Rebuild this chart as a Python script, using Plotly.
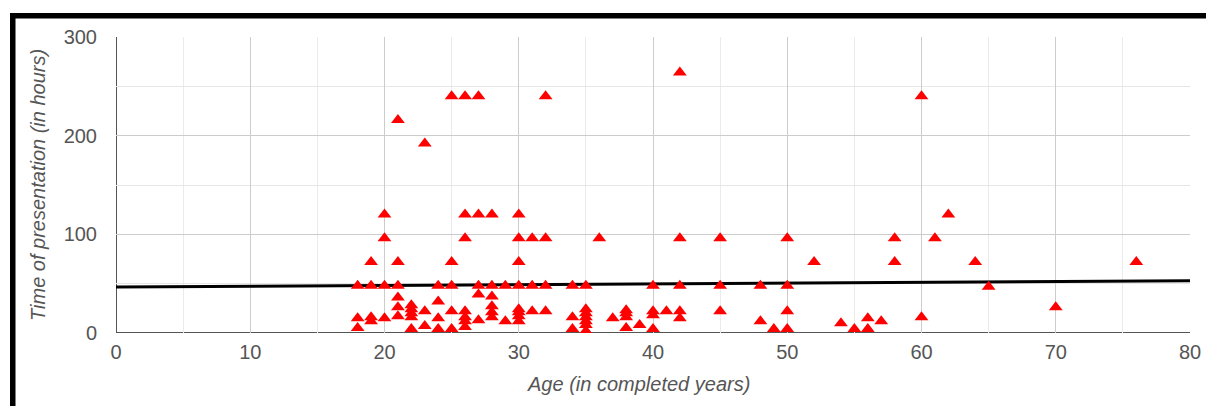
import plotly.graph_objects as go

# Data: (age, hours) pairs grouped by age
ages = [
    18, 18, 18,
    19, 19, 19, 19,
    20, 20, 20, 20,
    21, 21, 21, 21, 21, 21,
    22, 22, 22, 22, 22,
    23, 23, 23,
    24, 24, 24, 24,
    25, 25, 25, 25, 25,
    26, 26, 26, 26, 26, 26, 26,
    27, 27, 27, 27, 27,
    28, 28, 28, 28, 28, 28,
    29, 29,
    30, 30, 30, 30, 30, 30, 30, 30,
    31, 31, 31,
    32, 32, 32, 32,
    34, 34, 34,
    35, 35, 35, 35, 35, 35, 35,
    36,
    37,
    38, 38, 38, 38,
    39,
    40, 40, 40, 40,
    41,
    42, 42, 42, 42, 42,
    45, 45, 45,
    48, 48,
    49,
    50, 50, 50, 50,
    52,
    54, 55, 56, 56, 57,
    58, 58,
    60, 60,
    61, 62, 64, 65, 70, 76,
]
hours = [
    48, 15, 5,
    72, 48, 16, 12,
    120, 96, 48, 15,
    216, 72, 48, 36, 26, 17,
    28, 24, 20, 16, 4,
    192, 22, 7,
    48, 32, 15, 4,
    240, 72, 48, 22, 4,
    240, 120, 96, 22, 16, 12, 6,
    240, 120, 48, 39, 13,
    120, 48, 37, 27, 21, 16,
    48, 12,
    120, 96, 72, 48, 24, 21, 17, 12,
    96, 48, 22,
    240, 96, 48, 22,
    48, 16, 4,
    48, 24, 20, 16, 12, 8, 2,
    96,
    15,
    23, 20, 16, 5,
    8,
    48, 22, 18, 4,
    22,
    264, 96, 48, 22, 15,
    96, 48, 22,
    48, 12,
    4,
    96, 48, 22, 4,
    72,
    10, 4, 15, 4, 12,
    96, 72,
    240, 16,
    96, 120, 72, 47, 26, 72,
]

# Linear trendline as drawn in the reference (read endpoints)
trend_x = [0, 80]
trend_y = [46.5, 53]

x_ticks = [0, 10, 20, 30, 40, 50, 60, 70, 80]
y_ticks = [0, 100, 200, 300]

x_title = "Age (in completed years)"
y_title = "Time of presentation (in hours)"

fig = go.Figure()
fig.add_trace(go.Scatter(
    x=trend_x, y=trend_y, mode="lines",
    line=dict(color="black", width=3), hoverinfo="skip", showlegend=False,
))
fig.add_trace(go.Scatter(
    x=ages, y=hours, mode="markers",
    marker=dict(symbol="triangle-up", color="#ff0000", size=12, line=dict(width=0)),
    showlegend=False,
))

W, H = 1206, 406
L, R, T, B = 116, 1206 - 1190, 37, 406 - 333
pw, ph = W - L - R, H - T - B

def px(xs):
    return (xs - L) / pw

def py(ys):
    return (H - B - ys) / ph

# black frame (left and top bands) from the screenshot
fig.add_shape(type="rect", xref="paper", yref="paper",
              x0=px(10), x1=px(15.5), y0=py(410), y1=py(13),
              fillcolor="black", line=dict(width=0), layer="above")
fig.add_shape(type="rect", xref="paper", yref="paper",
              x0=px(10), x1=px(1210), y0=py(18.5), y1=py(13),
              fillcolor="black", line=dict(width=0), layer="above")

font_family = "Liberation Sans, Arial, sans-serif"
fig.update_layout(
    width=W, height=H,
    margin=dict(l=L, r=R, t=T, b=B, autoexpand=False),
    paper_bgcolor="white", plot_bgcolor="white",
    font=dict(family=font_family, color="#444444", size=20),
    xaxis=dict(
        range=[0, 80], tickvals=x_ticks, ticktext=[str(v) for v in x_ticks],
        showgrid=True, gridcolor="#cccccc", gridwidth=1,
        minor=dict(dtick=5, showgrid=True, gridcolor="#ebebeb", gridwidth=1),
        zeroline=False, showline=False,
        tickfont=dict(size=20, color="#555555"), ticks="", ticklabelstandoff=5,
        fixedrange=True,
    ),
    yaxis=dict(
        range=[0, 300], tickvals=y_ticks, ticktext=[str(v) for v in y_ticks],
        showgrid=True, gridcolor="#cccccc", gridwidth=1,
        minor=dict(dtick=50, showgrid=True, gridcolor="#e6e6e6", gridwidth=1),
        zeroline=False, showline=False,
        tickfont=dict(size=20, color="#555555"), ticks="", ticklabelstandoff=18,
        fixedrange=True,
    ),
    annotations=[
        dict(text="<i>" + x_title + "</i>", xref="paper", yref="paper",
             x=px(638), y=py(384), xanchor="center", yanchor="middle",
             showarrow=False, font=dict(size=20, color="#555555")),
        dict(text="<i>" + y_title + "</i>", xref="paper", yref="paper",
             x=px(38), y=py(185), xanchor="center", yanchor="middle",
             textangle=-90, showarrow=False, font=dict(size=20, color="#555555")),
    ],
)

# axis baselines
fig.add_shape(type="line", xref="x", yref="y", x0=0, x1=80, y0=0, y1=0,
              line=dict(color="#555555", width=2), layer="below")
fig.add_shape(type="line", xref="x", yref="y", x0=0, x1=0, y0=0, y1=300,
              line=dict(color="#555555", width=2), layer="below")

fig.write_html(
    "out.html",
    config={"displayModeBar": False},
    post_script="document.body.style.margin='0';document.body.style.overflow='hidden';",
)
